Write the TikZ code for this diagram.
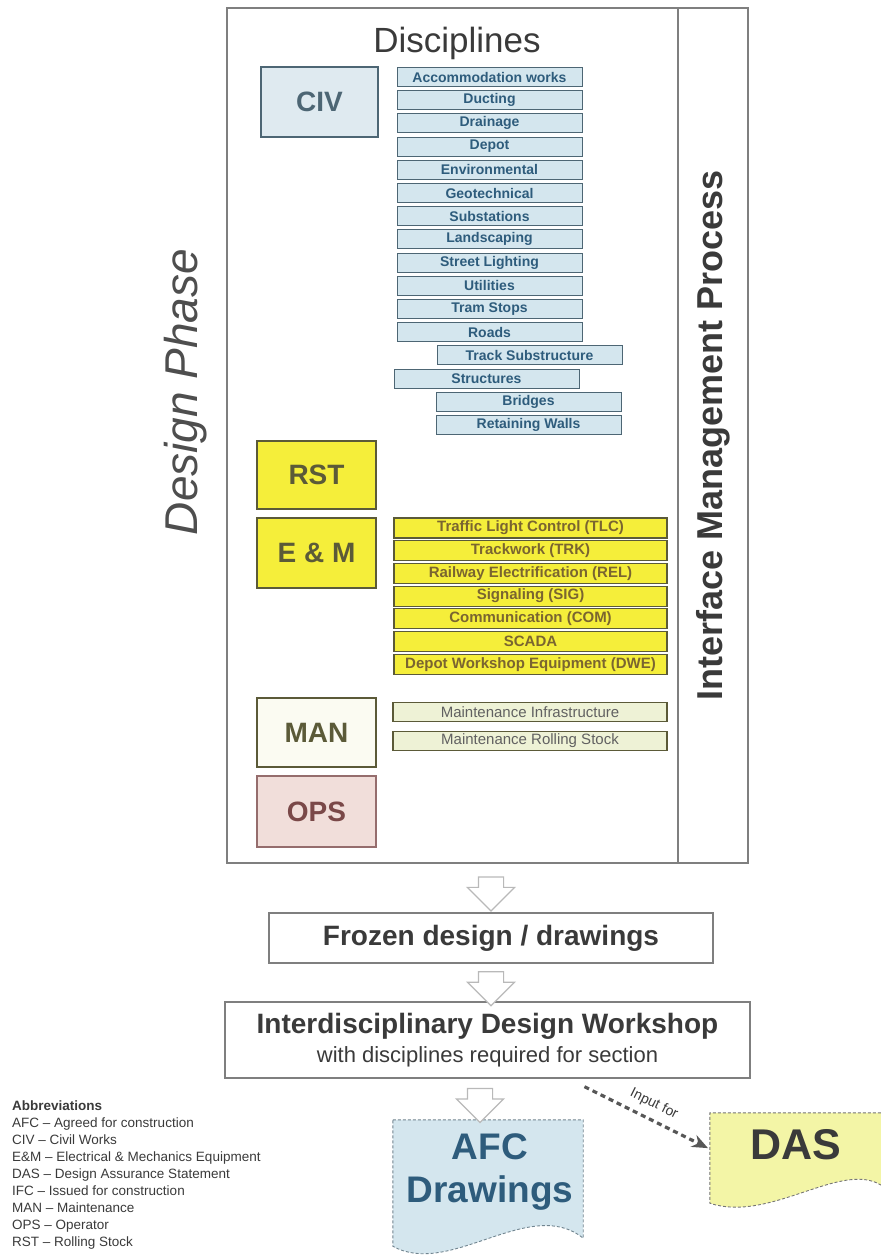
\documentclass[tikz,border=0pt]{standalone}
\usepackage{fontspec}
\setmainfont{Liberation Sans}
\setsansfont{Liberation Sans}
\usepackage{tikz}
\usetikzlibrary{arrows.meta,positioning,shapes.arrows,calc}
\definecolor{dpFrame}{HTML}{7F7F7F}
\definecolor{dpInk}{HTML}{3A3A3A}
\definecolor{dpBlue}{HTML}{2E5C7C}
\definecolor{dpBlueFill}{HTML}{D4E6EE}
\definecolor{dpCivFill}{HTML}{DFEAF0}
\definecolor{dpCivLine}{HTML}{4D6674}
\definecolor{dpYellow}{HTML}{F5EE3A}
\definecolor{dpOlive}{HTML}{5B5A38}
\definecolor{dpBrown}{HTML}{7A6530}
\definecolor{dpCream}{HTML}{FBFBF2}
\definecolor{dpMint}{HTML}{EEF2D6}
\definecolor{dpPink}{HTML}{F1DEDA}
\definecolor{dpRose}{HTML}{7A4848}
\definecolor{dpDasFill}{HTML}{F3F5A6}

\begin{document}
\begin{tikzpicture}[x=1pt,y=-1pt,font=\sffamily,
  frame/.style={draw=dpFrame,line width=1.4pt,inner sep=0pt,outer sep=0pt},
  grp/.style={rectangle,line width=1.3pt,minimum width=119pt,minimum height=69pt,inner sep=0pt,outer sep=0pt,
    font=\sffamily\bfseries\fontsize{28}{30}\selectfont},
  civitem/.style={draw=dpCivLine,fill=dpBlueFill,line width=1pt,minimum width=185pt,minimum height=19pt,
    inner sep=0pt,outer sep=0pt,text=dpBlue,font=\sffamily\bfseries\fontsize{14}{14}\selectfont},
  emitem/.style={draw=dpOlive,fill=dpYellow,line width=1.1pt,minimum width=273pt,minimum height=20pt,
    inner sep=0pt,outer sep=0pt,text=dpBrown,font=\sffamily\bfseries\fontsize{15}{15}\selectfont},
  manitem/.style={draw=dpOlive,fill=dpMint,line width=1.1pt,minimum width=274pt,minimum height=19pt,
    inner sep=0pt,outer sep=0pt,text=dpInk!80,font=\sffamily\fontsize{15}{15}\selectfont},
  flow/.style={draw=dpFrame,line width=1.4pt,fill=white,text=dpInk,inner sep=0pt},
  harr/.style={single arrow,draw=gray!55,line width=1.2pt,fill=white,shape border rotate=270,
    text width=24pt,minimum height=34pt,minimum width=46pt,single arrow head extend=11pt,inner sep=0pt},
  doc/.style={draw=dpCivLine!80,densely dashed,line width=0.9pt},
  inarr/.style={-{Stealth[length=16pt,width=13pt]},line width=3.2pt,dpInk!85,dash pattern=on 5pt off 4pt}]
\useasboundingbox (0,0) rectangle (881,1259);
\node[frame,minimum width=451pt,minimum height=855pt] (phase) at (452.5,435.5) {};
\node[frame,minimum width=70pt,minimum height=855pt,right=0pt of phase] (imp) {};
\node[rotate=90,text=dpInk,font=\sffamily\bfseries\fontsize{36}{36}\selectfont] (impl) at (imp.center) {Interface Management Process};
\node[text=dpInk,font=\sffamily\fontsize{35}{35}\selectfont] (disc) at (457,43) {Disciplines};
\node[rotate=90,text=dpInk!90,font=\sffamily\itshape\fontsize{46}{46}\selectfont] (dphase) at (186,392) {Design Phase};
\node[grp,draw=dpCivLine,fill=dpCivFill,text=dpCivLine,minimum width=117pt,minimum height=70pt] (civ) at (319.5,102) {CIV};
\node[grp,draw=dpOlive,fill=dpYellow,text=dpOlive,minimum height=68pt] (rst) at (316.5,475) {RST};
\node[grp,draw=dpOlive,fill=dpYellow,text=dpOlive,minimum height=70pt,below=9pt of rst] (em) {E \& M};
\node[grp,draw=dpOlive,fill=dpCream,text=dpOlive] (man) at (316.5,732.5) {MAN};
\node[grp,draw=dpRose!80,fill=dpPink,text=dpRose,minimum height=71pt,below=9pt of man] (ops) {OPS};
\node[civitem] (acc) at (489.5,77) {Accommodation works};
\node[civitem,below=4.2pt of acc] (duct) {Ducting};
\node[civitem,below=4.2pt of duct] (drain) {Drainage};
\node[civitem,below=4.2pt of drain] (depot) {Depot};
\node[civitem,below=4.2pt of depot] (env) {Environmental};
\node[civitem,below=4.2pt of env] (geo) {Geotechnical};
\node[civitem,below=4.2pt of geo] (subst) {Substations};
\node[civitem,below=4.2pt of subst] (land) {Landscaping};
\node[civitem,below=4.2pt of land] (light) {Street Lighting};
\node[civitem,below=4.2pt of light] (util) {Utilities};
\node[civitem,below=4.2pt of util] (stops) {Tram Stops};
\node[civitem,below=4.2pt of stops] (roads) {Roads};
\node[civitem,below=4.2pt of roads,xshift=40pt] (track) {Track Substructure};
\node[civitem,below=4.2pt of track,xshift=-43pt] (struct) {Structures};
\node[civitem,below=4.2pt of struct,xshift=42pt] (bridge) {Bridges};
\node[civitem,below=4.2pt of bridge] (rwall) {Retaining Walls};
\node[emitem] (tlc) at (530.5,528) {Traffic Light Control (TLC)};
\node[emitem,below=2.7pt of tlc] (trk) {Trackwork (TRK)};
\node[emitem,below=2.7pt of trk] (rel) {Railway Electrification (REL)};
\node[emitem,below=2.7pt of rel] (sig) {Signaling (SIG)};
\node[emitem,below=2.7pt of sig] (com) {Communication (COM)};
\node[emitem,below=2.7pt of com] (scada) {SCADA};
\node[emitem,below=2.7pt of scada] (dwe) {Depot Workshop Equipment (DWE)};
\node[manitem] (minf) at (530,712) {Maintenance Infrastructure};
\node[manitem,below=10pt of minf] (mrst) {Maintenance Rolling Stock};
\node[flow,minimum width=444pt,minimum height=50pt,font=\sffamily\bfseries\fontsize{28}{30}\selectfont] (frozen) at (491,938) {Frozen design / drawings};
\node[flow,minimum width=525pt,minimum height=76pt,align=center,font=\sffamily\fontsize{22}{29}\selectfont] (ws) at (487.5,1040)
  {{\bfseries\fontsize{28}{30}\selectfont Interdisciplinary Design Workshop}\\with disciplines required for section};
\node[minimum width=190pt,minimum height=118pt,inner sep=0pt] (afc) at (488,1179) {};
\fill[dpBlueFill] (afc.north west) -- (afc.north east) -- (afc.south east) .. controls +(-53,-43) and +(57,32) .. ($(afc.south west)+(0,8)$) -- cycle;
\draw[doc] (afc.north west) -- (afc.north east) -- (afc.south east) .. controls +(-53,-43) and +(57,32) .. ($(afc.south west)+(0,8)$) -- cycle;
\node[align=center,text=dpBlue,font=\sffamily\bfseries\fontsize{37}{43}\selectfont] (afcl) at (490,1171.5) {AFC\\Drawings};
\node[minimum width=171pt,minimum height=72pt,inner sep=0pt] (das) at (795.5,1149) {};
\fill[dpDasFill] (das.north west) -- (das.north east) -- (das.south east) .. controls +(-40,-25) and +(60,20) .. ($(das.south west)+(0,18)$) -- cycle;
\draw[doc,draw=dpInk!70] (das.south east) .. controls +(-40,-25) and +(60,20) .. ($(das.south west)+(0,18)$) -- (das.north west) -- (das.north east);
\node[text=dpInk,font=\sffamily\bfseries\fontsize{43}{43}\selectfont] (dasl) at (796,1145) {DAS};
\path (frozen.north |- phase.south) -- node[harr] (a1) {} (frozen.north);
\path (frozen.south) -- node[harr] (a2) {} (frozen.south |- ws.north);
\path (afc.north |- ws.south) -- node[harr,xshift=-8pt] (a3) {} (afc.north);
\coordinate (infrom) at ($(ws.south)+(97,8)$);
\draw[inarr,shorten >=2pt] (infrom) -- node[sloped,above=4pt,text=dpInk,font=\sffamily\fontsize{14}{14}\selectfont] (inlbl) {Input for} (das.west);
\node[anchor=north west,align=left,inner sep=0pt,text=dpInk,font=\sffamily\fontsize{13.5}{17}\selectfont] (abbr) at (12,1101)
  {\textbf{Abbreviations}\\AFC -- Agreed for construction\\CIV -- Civil Works\\E\&M -- Electrical \& Mechanics Equipment\\DAS -- Design Assurance Statement\\IFC -- Issued for construction\\MAN -- Maintenance\\OPS -- Operator\\RST -- Rolling Stock};
\end{tikzpicture}
\end{document}
